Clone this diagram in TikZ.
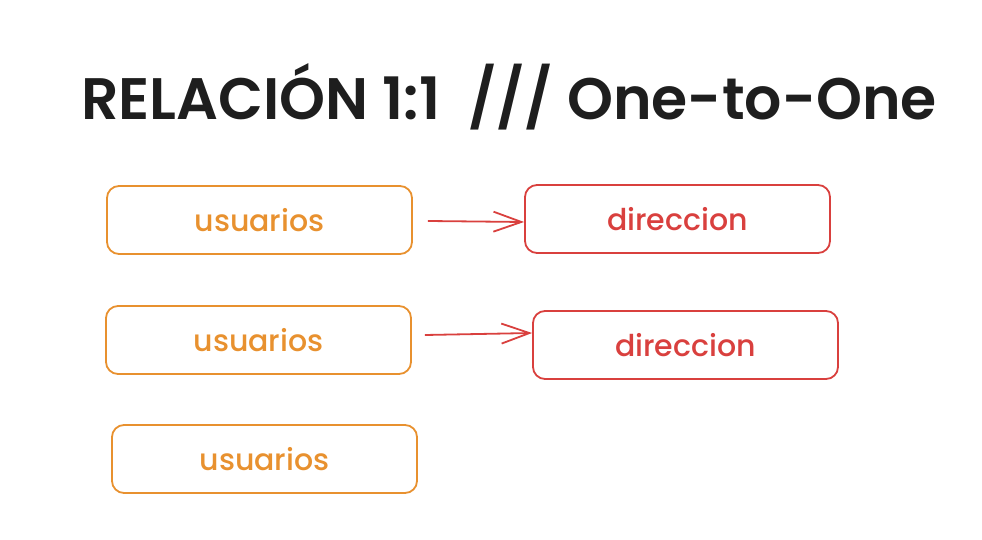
\documentclass[tikz,border=0pt]{standalone}
\usepackage{fontspec}
\setmainfont{Poppins}[UprightFont=* Medium, BoldFont=* SemiBold]
\usepackage{tikz}
\usetikzlibrary{arrows.meta,positioning}
\definecolor{tablaorange}{HTML}{E8912F}
\definecolor{tablared}{HTML}{D9403E}
\definecolor{titleblack}{HTML}{1E1E1E}

\tikzset{
  tabla/.style={draw, line width=1.8pt, rounded corners=12pt,
    minimum width=305pt, minimum height=68pt, font=\fontsize{30}{34}\selectfont},
  usr/.style={tabla, draw=tablaorange, text=tablaorange},
  dir/.style={tabla, draw=tablared, text=tablared},
  rel/.style={draw=tablared, line width=1.8pt, -{Straight Barb[length=28pt,width=20pt,line width=1.8pt]}}
}

\begin{document}
\begin{tikzpicture}[x=1pt,y=-1pt]
\useasboundingbox (0,0) rectangle (982,540);
\node[text=titleblack, font=\fontsize{58.5}{64}\selectfont\bfseries] (title) at (509,97) {RELACIÓN 1:1\ \ /// One-to-One};

\node[usr] (usuarios1) at (259.5,220) {usuarios};
\node[dir] (direccion1) at (677.5,219) {direccion};
\node[usr] (usuarios2) at (258.5,340) {usuarios};
\node[dir] (direccion2) at (685.5,345) {direccion};
\node[usr] (usuarios3) at (264.5,459) {usuarios};

\draw[rel] ([xshift=15pt,yshift=-1pt]usuarios1.east) -- ([yshift=-3pt]direccion1.west);
\draw[rel] ([xshift=13pt,yshift=5pt]usuarios2.east) -- ([yshift=12pt]direccion2.west);
\end{tikzpicture}
\end{document}
